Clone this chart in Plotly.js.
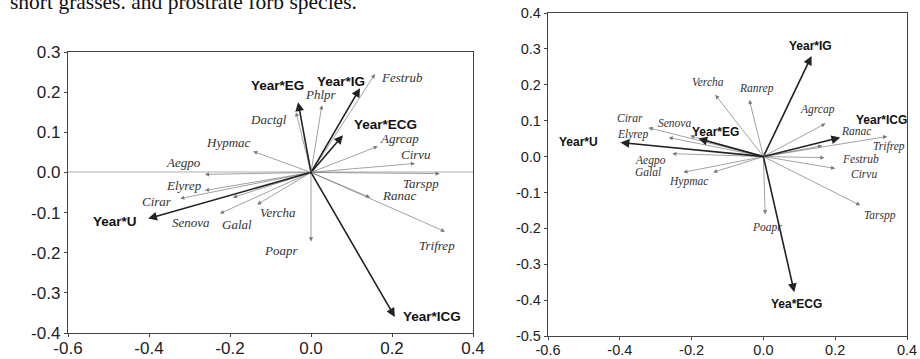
<!DOCTYPE html>
<html>
<head>
<meta charset="utf-8">
<script src="https://cdn.plot.ly/plotly-3.0.1.min.js"></script>
<style>html,body{margin:0;padding:0;background:#fff;}#chart{width:920px;height:359px;}</style>
</head>
<body>
<div id="chart"></div>
<script>
// ---------- data ----------
const captionText = 'short grasses. and prostrate forb species.';

const leftEnvNames = ['Year*EG', 'Year*IG', 'Year*ECG', 'Year*U', 'Year*ICG'];
const leftEnvX = [-0.032, 0.121, 0.079, -0.402, 0.207];
const leftEnvY = [0.175, 0.21, 0.0925, -0.115, -0.36];

const leftSpNames = ['Festrub', 'Phlpr', 'Dactgl', 'Hypmac', 'Aegpo', 'Elyrep', 'Cirar', 'Senova', 'Galal', 'Vercha', 'Poapr', 'Agrcap', 'Cirvu', 'Tarspp', 'Ranac', 'Trifrep'];
const leftSpX = [0.158, 0.027, -0.037, -0.143, -0.262, -0.262, -0.323, -0.193, -0.225, -0.133, 0.0, 0.165, 0.257, 0.318, 0.146, 0.331];
const leftSpY = [0.245, 0.1675, 0.15, 0.0525, -0.005, -0.045, -0.065, -0.0625, -0.1025, -0.08, -0.172, 0.065, 0.0225, -0.003, -0.0625, -0.1475];

const rightEnvNames = ['Year*IG', 'Year*ICG', 'Year*EG', 'Year*U', 'Yea*ECG'];
const rightEnvX = [0.134, 0.214, -0.181, -0.398, 0.086];
const rightEnvY = [0.28, 0.053, 0.05, 0.039, -0.378];

const rightSpNames = ['Vercha', 'Ranrep', 'Agrcap', 'Ranac', 'Trifrep', 'Festrub', 'Cirvu', 'Tarspp', 'Poapr', 'Cirar', 'Senova', 'Elyrep', 'Aegpo', 'Galal', 'Hypmac'];
const rightSpX = [-0.134, -0.039, 0.173, 0.164, 0.345, 0.17, 0.2, 0.27, 0.005, -0.32, -0.204, -0.264, -0.254, -0.223, -0.14];
const rightSpY = [0.172, 0.158, 0.092, 0.03, 0.056, -0.003, -0.033, -0.136, -0.161, 0.08, 0.058, 0.053, 0.008, -0.044, -0.044];

const xTickVals = [-0.6, -0.4, -0.2, 0.0, 0.2, 0.4];
const xTickText = ['-0.6', '-0.4', '-0.2', '0.0', '0.2', '0.4'];
const leftYTickVals = [-0.4, -0.3, -0.2, -0.1, 0.0, 0.1, 0.2, 0.3];
const leftYTickText = ['-0.4', '-0.3', '-0.2', '-0.1', '0.0', '0.1', '0.2', '0.3'];
const rightYTickVals = [-0.5, -0.4, -0.3, -0.2, -0.1, 0.0, 0.1, 0.2, 0.3, 0.4];
const rightYTickText = ['-0.5', '-0.4', '-0.3', '-0.2', '-0.1', '0.0', '0.1', '0.2', '0.3', '0.4'];

// ---------- label placement (pixel offsets, screen dx / dy down) ----------
const leftEnvOff = [[-21, -17], [-19, -7], [43, -11], [-33, 3], [37, 0]];
const leftSpOff = [[27, 3], [-1, -11], [-28, 7], [-25, -9], [-21, -12], [-21, -5], [-23, 3], [-42, 25], [17, 11], [21, 8], [-30, 9], [22, -8], [1, -9], [-19, 10], [29, -2], [-8, 14]];
const rightEnvOff = [[-1, -10], [41, -18], [17, -7], [-42, -1], [2, 12]];
const rightSpOff = [[-7, -13], [7, -11], [-8, -14], [34, -15], [2, 10], [36, 1], [29, 6], [20, 10], [2, 13], [-19, -10], [-16, -13], [-36, -3], [-22, 7], [-35, 0], [-25, 9]];

// ---------- build ----------
const annotations = [];
function addSet(names, xs, ys, offs, xr, yr, isEnv, fs) {
  names.forEach((n, i) => {
    annotations.push({
      x: xs[i], y: ys[i], ax: 0, ay: 0, xref: xr, yref: yr, axref: xr, ayref: yr,
      text: '', showarrow: true,
      arrowhead: 2, arrowsize: isEnv ? 1.1 : 1.2, arrowwidth: isEnv ? 1.6 : 0.7,
      arrowcolor: isEnv ? '#222' : '#7a7a7a', standoff: 0, startstandoff: 0
    });
    annotations.push({
      x: xs[i], y: ys[i], xref: xr, yref: yr, text: n, showarrow: false,
      xshift: offs[i][0], yshift: -offs[i][1],
      font: isEnv
        ? {family: 'Liberation Sans, Arial, sans-serif', size: fs, color: '#111', weight: 'bold'}
        : {family: 'Liberation Serif, Times New Roman, serif', size: fs, color: '#333', style: 'italic'}
    });
  });
}
addSet(leftSpNames, leftSpX, leftSpY, leftSpOff, 'x', 'y', false, 13);
addSet(leftEnvNames, leftEnvX, leftEnvY, leftEnvOff, 'x', 'y', true, 13.5);
addSet(rightSpNames, rightSpX, rightSpY, rightSpOff, 'x2', 'y2', false, 11.5);
addSet(rightEnvNames, rightEnvX, rightEnvY, rightEnvOff, 'x2', 'y2', true, 12);

annotations.push({
  xref: 'paper', yref: 'paper', x: 0, y: 1, xanchor: 'left', yanchor: 'bottom',
  xshift: 8, yshift: -16, text: captionText, showarrow: false,
  font: {family: 'Liberation Serif, Times New Roman, serif', size: 21.5, color: '#111'}
});

const axisCommon = {
  showgrid: false, showline: true, linecolor: '#444', linewidth: 1.2, mirror: true,
  ticks: 'outside', ticklen: 3, tickcolor: '#444', tickmode: 'array', fixedrange: true
};

const layout = {
  width: 920, height: 359,
  margin: {l: 0, r: 0, t: 0, b: 0},
  paper_bgcolor: '#fff', plot_bgcolor: '#fff',
  showlegend: false,
  xaxis: Object.assign({}, axisCommon, {
    domain: [68 / 920, 473 / 920], range: [-0.6, 0.4], anchor: 'y',
    tickvals: xTickVals, ticktext: xTickText, zeroline: false, ticklabelstandoff: -4,
    tickfont: {family: 'Liberation Sans, Arial, sans-serif', size: 17, color: '#222'}
  }),
  yaxis: Object.assign({}, axisCommon, {
    domain: [(359 - 333) / 359, (359 - 52) / 359], range: [-0.4, 0.3], anchor: 'x',
    tickvals: leftYTickVals, ticktext: leftYTickText,
    zeroline: true, zerolinecolor: '#d6d6d6', zerolinewidth: 2,
    tickfont: {family: 'Liberation Sans, Arial, sans-serif', size: 17, color: '#222'}
  }),
  xaxis2: Object.assign({}, axisCommon, {
    domain: [548 / 920, 907 / 920], range: [-0.6, 0.4], anchor: 'y2',
    tickvals: xTickVals, ticktext: xTickText, zeroline: false, ticklabelstandoff: -3,
    tickfont: {family: 'Liberation Sans, Arial, sans-serif', size: 14.5, color: '#222'}
  }),
  yaxis2: Object.assign({}, axisCommon, {
    domain: [(359 - 336) / 359, (359 - 13) / 359], range: [-0.5, 0.4], anchor: 'x2',
    tickvals: rightYTickVals, ticktext: rightYTickText, zeroline: false,
    tickfont: {family: 'Liberation Sans, Arial, sans-serif', size: 14.5, color: '#222'}
  }),
  annotations: annotations
};

const traces = [
  {x: [0], y: [0], xaxis: 'x', yaxis: 'y', mode: 'markers', marker: {size: 3, color: '#222'}, hoverinfo: 'skip'},
  {x: [0], y: [0], xaxis: 'x2', yaxis: 'y2', mode: 'markers', marker: {size: 3, color: '#222'}, hoverinfo: 'skip'}
];

Plotly.newPlot('chart', traces, layout, {displayModeBar: false, staticPlot: true});
</script>
</body>
</html>
